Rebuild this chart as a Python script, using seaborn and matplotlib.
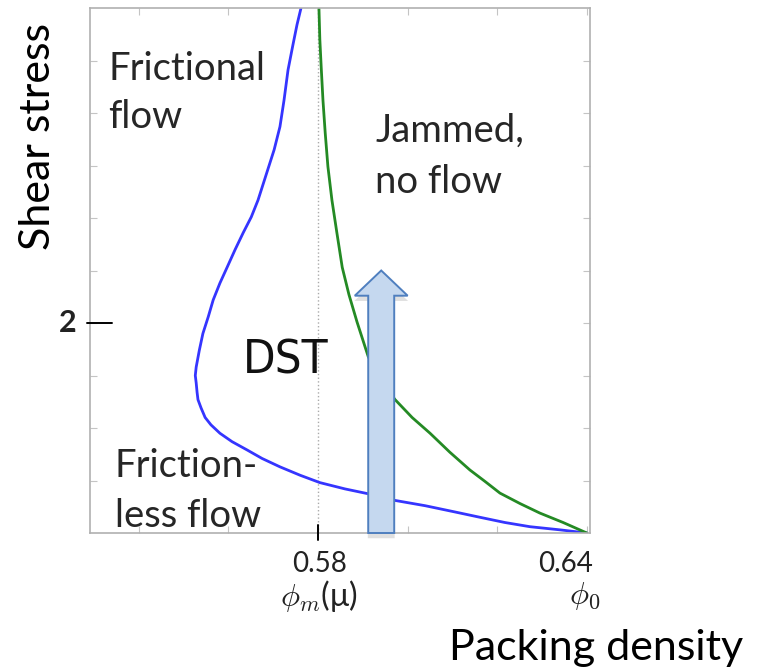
import numpy as np
import pandas as pd
import matplotlib
matplotlib.use("Agg")
import matplotlib.pyplot as plt
import matplotlib.patches as mpatches
import seaborn as sns

# ---- data ----
blue_phi = [0.6400, 0.6340, 0.6273, 0.6217, 0.6161, 0.6106, 0.6039, 0.5972, 0.5916,
            0.5860, 0.5804, 0.5760, 0.5715, 0.5675, 0.5642, 0.5608, 0.5581, 0.5561,
            0.5548, 0.5539, 0.5532, 0.5530, 0.5528, 0.5526, 0.5528, 0.5535, 0.5543,
            0.5555, 0.5566, 0.5581, 0.5597, 0.5615, 0.5633, 0.5651, 0.5666, 0.5684,
            0.5702, 0.5715, 0.5724, 0.5733, 0.5744, 0.5753, 0.5762]
blue_stress = [0.00, 0.03, 0.06, 0.10, 0.15, 0.20, 0.26, 0.31, 0.37,
               0.42, 0.48, 0.55, 0.63, 0.71, 0.79, 0.87, 0.95, 1.03,
               1.10, 1.19, 1.27, 1.34, 1.43, 1.50, 1.58, 1.74, 1.90,
               2.06, 2.22, 2.38, 2.53, 2.70, 2.86, 3.01, 3.17, 3.41,
               3.65, 3.87, 4.12, 4.41, 4.65, 4.84, 5.00]
green_phi = [0.6400, 0.6347, 0.6295, 0.6251, 0.6206, 0.6173, 0.6139, 0.6094, 0.6050,
             0.6010, 0.5972, 0.5938, 0.5912, 0.5887, 0.5869, 0.5854, 0.5842, 0.5831,
             0.5822, 0.5816, 0.5811, 0.5807, 0.5804, 0.5802]
green_stress = [0.00, 0.10, 0.19, 0.28, 0.38, 0.49, 0.60, 0.77, 0.95,
                1.10, 1.27, 1.46, 1.68, 2.01, 2.27, 2.53, 2.86, 3.17,
                3.49, 3.81, 4.12, 4.44, 4.70, 5.00]
phi_m = 0.58
phi_0 = 0.64
arrow_phi = 0.5941
arrow_top = 2.50
x_minor = [0.54, 0.56, 0.58, 0.60, 0.62, 0.64]
y_minor = [0.5, 1.0, 1.5, 2.0, 2.5, 3.0, 3.5, 4.0, 4.5]

W, H = 763, 667
sns.set_theme(style="white")
plt.rcParams["font.family"] = ["Lato", "DejaVu Sans"]
plt.rcParams["mathtext.fontset"] = "cm"

fig = plt.figure(figsize=(W / 100, H / 100), dpi=100)
ax = fig.add_axes([90 / W, 1 - 533 / H, 500 / W, 525 / H])

df_b = pd.DataFrame({"phi": blue_phi, "stress": blue_stress})
df_g = pd.DataFrame({"phi": green_phi, "stress": green_stress})
sns.lineplot(data=df_b, x="phi", y="stress", sort=False, estimator=None,
             color="#3535ff", lw=2.0, ax=ax)
sns.lineplot(data=df_g, x="phi", y="stress", sort=False, estimator=None,
             color="#248a24", lw=2.0, ax=ax)
for ln in ax.lines:
    ln.set_solid_joinstyle("round")
ax.axvline(phi_m, color="#aaaaaa", lw=1.0, ls=":", zorder=1)

ax.set_xlim(0.5291, 0.6407)
ax.set_ylim(0, 5)
ax.set_xlabel("")
ax.set_ylabel("")

# arrow with soft shadow
sh = mpatches.FancyArrow(arrow_phi, -0.05, 0, arrow_top, width=0.0060,
                         head_width=0.0120, head_length=0.24,
                         length_includes_head=True, color="#999999", alpha=0.3,
                         lw=0, zorder=3, clip_on=False)
ax.add_patch(sh)
ar = mpatches.FancyArrow(arrow_phi, 0.0, 0, arrow_top, width=0.0058,
                         head_width=0.0118, head_length=0.24,
                         length_includes_head=True, facecolor="#c5d8ef",
                         edgecolor="#4f7fbf", lw=1.4, zorder=4, clip_on=False)
ax.add_patch(ar)

# ticks
ax.set_xticks(x_minor)
ax.set_xticklabels([])
ax.set_yticks(y_minor)
ax.set_yticklabels([])
ax.tick_params(axis="both", which="major", direction="in", length=5, width=0.8,
               color="#c4c4c4", top=True, right=True, bottom=True, left=True)
for sp in ax.spines.values():
    sp.set_color("#b0b0b0")
    sp.set_linewidth(1.2)

# highlighted ticks (0.58 on x and 2 on y)
ax.plot([phi_m, phi_m], [-0.07, 0.08], color="black", lw=1.4, clip_on=False, zorder=6)
ax.plot([0.5284, 0.5340], [2.0, 2.0], color="black", lw=1.4, clip_on=False, zorder=6)

def px(x, y):
    return x / W, 1 - y / H

fig.text(*px(68, 323), "2", fontsize=22, fontweight="bold", ha="center", va="center",
         color="#222222")
fig.text(*px(320, 572), "0.58", fontsize=20, ha="center", va="baseline", color="#222222")
fig.text(*px(566, 572), "0.64", fontsize=20, ha="center", va="baseline", color="#222222")
fig.text(*px(319, 606), r"$\phi_m$(μ)", fontsize=23, ha="center", va="baseline",
         color="#222222")
fig.text(*px(585, 604), r"$\phi_0$", fontsize=23, ha="center", va="baseline",
         color="#222222")

fig.text(*px(38, 137), "Shear stress", fontsize=31, rotation=90, ha="center",
         va="center", color="black")
fig.text(*px(596, 660), "Packing density", fontsize=31, ha="center", va="baseline",
         color="black")

fs = 27.5
fig.text(*px(108, 80), "Frictional", fontsize=fs, ha="left", va="baseline")
fig.text(*px(108, 128), "flow", fontsize=fs, ha="left", va="baseline")
fig.text(*px(375, 142), "Jammed,", fontsize=fs, ha="left", va="baseline")
fig.text(*px(375, 193), "no flow", fontsize=fs, ha="left", va="baseline")
fig.text(*px(115, 477), "Friction-", fontsize=fs, ha="left", va="baseline")
fig.text(*px(115, 527), "less flow", fontsize=fs, ha="left", va="baseline")
fig.text(*px(243, 373), "DST", fontsize=34, ha="left", va="baseline",
         family=["DejaVu Sans"], fontstretch="condensed", color="#111111")

fig.savefig("out.png", dpi=100)
